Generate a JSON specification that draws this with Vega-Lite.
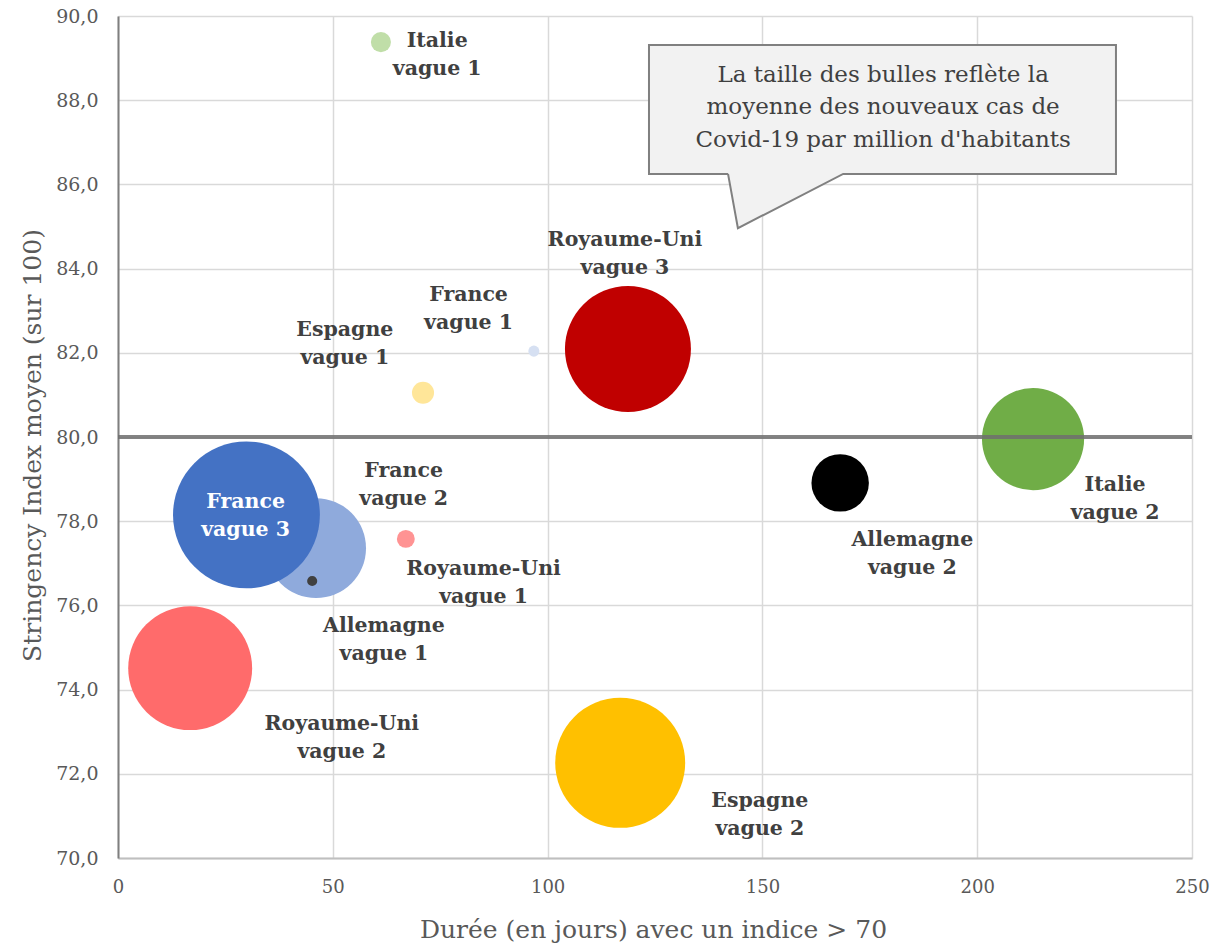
{
  "$schema": "https://vega.github.io/schema/vega-lite/v6.json",
  "width": 1074,
  "height": 842,
  "autosize": {"type": "none"},
  "padding": {"left": 118, "top": 16, "right": 20, "bottom": 88},
  "background": "white",
  "datasets": {
    "bulles": [
      {"serie": "Royaume-Uni vague 2", "duree": 16.8, "indice": 74.51, "cas": 240, "z": 1},
      {"serie": "Espagne vague 2", "duree": 116.9, "indice": 72.26, "cas": 264, "z": 2},
      {"serie": "Royaume-Uni vague 3", "duree": 118.7, "indice": 82.09, "cas": 248, "z": 3},
      {"serie": "Italie vague 2", "duree": 213.0, "indice": 79.95, "cas": 163, "z": 4},
      {"serie": "France vague 2", "duree": 46.1, "indice": 77.36, "cas": 156, "z": 5},
      {"serie": "France vague 3", "duree": 29.9, "indice": 78.15, "cas": 337, "z": 6},
      {"serie": "Allemagne vague 2", "duree": 168.1, "indice": 78.91, "cas": 51.5, "z": 7},
      {"serie": "Espagne vague 1", "duree": 71.0, "indice": 81.05, "cas": 7.6, "z": 8},
      {"serie": "Italie vague 1", "duree": 61.2, "indice": 89.38, "cas": 6.3, "z": 9},
      {"serie": "Royaume-Uni vague 1", "duree": 67.0, "indice": 77.58, "cas": 5.0, "z": 10},
      {"serie": "France vague 1", "duree": 96.8, "indice": 82.04, "cas": 1.9, "z": 11},
      {"serie": "Allemagne vague 1", "duree": 45.2, "indice": 76.58, "cas": 1.6, "z": 12}
    ],
    "etiquettes": [
      {"serie": "Italie vague 1", "texte": "Italie\nvague 1", "lx": 74.3, "ly": 89.07},
      {"serie": "France vague 1", "texte": "France\nvague 1", "lx": 81.6, "ly": 83.05},
      {"serie": "Espagne vague 1", "texte": "Espagne\nvague 1", "lx": 52.8, "ly": 82.2},
      {"serie": "Royaume-Uni vague 3", "texte": "Royaume-Uni\nvague 3", "lx": 118.0, "ly": 84.35},
      {"serie": "France vague 2", "texte": "France\nvague 2", "lx": 66.5, "ly": 78.87},
      {"serie": "France vague 3", "texte": "France\nvague 3", "lx": 29.7, "ly": 78.12},
      {"serie": "Royaume-Uni vague 1", "texte": "Royaume-Uni\nvague 1", "lx": 85.1, "ly": 76.53},
      {"serie": "Allemagne vague 1", "texte": "Allemagne\nvague 1", "lx": 61.9, "ly": 75.18},
      {"serie": "Royaume-Uni vague 2", "texte": "Royaume-Uni\nvague 2", "lx": 52.1, "ly": 72.84},
      {"serie": "Espagne vague 2", "texte": "Espagne\nvague 2", "lx": 149.4, "ly": 71.02},
      {"serie": "Allemagne vague 2", "texte": "Allemagne\nvague 2", "lx": 184.9, "ly": 77.23},
      {"serie": "Italie vague 2", "texte": "Italie\nvague 2", "lx": 232.1, "ly": 78.53}
    ],
    "bulle_boite": [
      {"x1": 123.6, "x2": 232.3, "y1": 86.25, "y2": 89.31}
    ],
    "bulle_pointe": [
      {"py": 86.25, "px1": 142.0, "px2": 168.8},
      {"py": 84.96, "px1": 144.3, "px2": 144.3}
    ],
    "bulle_contour": [
      {"i": 1, "cx": 142.0, "cy": 86.25},
      {"i": 2, "cx": 123.6, "cy": 86.25},
      {"i": 3, "cx": 123.6, "cy": 89.31},
      {"i": 4, "cx": 232.3, "cy": 89.31},
      {"i": 5, "cx": 232.3, "cy": 86.25},
      {"i": 6, "cx": 168.8, "cy": 86.25},
      {"i": 7, "cx": 144.3, "cy": 84.96},
      {"i": 8, "cx": 142.0, "cy": 86.25}
    ],
    "bulle_texte": [
      {"tx": 178.1, "ty": 87.83, "t": "La taille des bulles reflète la\nmoyenne des nouveaux cas de\nCovid-19 par million d'habitants"}
    ],
    "seuil": [{"v": 80}]
  },
  "layer": [
    {
      "data": {"name": "bulles"},
      "mark": {"type": "point", "shape": "circle", "filled": true, "opacity": 1, "strokeWidth": 0},
      "encoding": {
        "x": {"field": "duree", "type": "quantitative", "title": "Durée (en jours) avec un indice > 70",
              "scale": {"domain": [0, 250], "nice": false, "zero": false},
              "axis": {"values": [0, 50, 100, 150, 200, 250]}},
        "y": {"field": "indice", "type": "quantitative", "title": "Stringency Index moyen (sur 100)",
              "scale": {"domain": [70, 90], "nice": false, "zero": false},
              "axis": {"values": [70, 72, 74, 76, 78, 80, 82, 84, 86, 88, 90],
                       "labelExpr": "replace(format(datum.value, '.1f'), '.', ',')"}},
        "size": {"field": "cas", "type": "quantitative", "legend": null,
                 "scale": {"type": "linear", "zero": true, "domain": [0, 400], "range": [0, 25600]}},
        "color": {"field": "serie", "type": "nominal", "legend": null,
                  "scale": {
                    "domain": ["Italie vague 1", "France vague 1", "Espagne vague 1", "Royaume-Uni vague 3", "Allemagne vague 2", "Italie vague 2", "France vague 3", "France vague 2", "Royaume-Uni vague 1", "Allemagne vague 1", "Royaume-Uni vague 2", "Espagne vague 2"],
                    "range": ["#c0dea8", "#d6e0f2", "#ffe699", "#c00000", "#000000", "#70ad47", "#4472c4", "#8faadc", "#ff9393", "#404040", "#ff6b6b", "#ffc000"]
                  }},
        "order": {"field": "z", "type": "quantitative"}
      }
    },
    {
      "data": {"name": "bulle_boite"},
      "mark": {"type": "rect", "fill": "#f2f2f2", "strokeWidth": 0},
      "encoding": {
        "x": {"field": "x1", "type": "quantitative", "title": "Durée (en jours) avec un indice > 70"},
        "x2": {"field": "x2"},
        "y": {"field": "y1", "type": "quantitative", "title": "Stringency Index moyen (sur 100)"},
        "y2": {"field": "y2"}
      }
    },
    {
      "data": {"name": "bulle_pointe"},
      "mark": {"type": "area", "orient": "horizontal", "fill": "#f2f2f2", "strokeWidth": 0, "opacity": 1},
      "encoding": {
        "y": {"field": "py", "type": "quantitative", "title": "Stringency Index moyen (sur 100)"},
        "x": {"field": "px1", "type": "quantitative", "title": "Durée (en jours) avec un indice > 70"},
        "x2": {"field": "px2"}
      }
    },
    {
      "data": {"name": "bulle_contour"},
      "mark": {"type": "line", "stroke": "#808080", "strokeWidth": 2, "strokeJoin": "miter"},
      "encoding": {
        "x": {"field": "cx", "type": "quantitative", "title": "Durée (en jours) avec un indice > 70"},
        "y": {"field": "cy", "type": "quantitative", "title": "Stringency Index moyen (sur 100)"},
        "order": {"field": "i", "type": "quantitative"}
      }
    },
    {
      "data": {"name": "bulle_texte"},
      "mark": {"type": "text", "font": "DejaVu Serif", "fontSize": 23, "color": "#404040", "align": "center", "baseline": "middle", "lineBreak": "\n", "lineHeight": 32.5, "dy": -32.5},
      "encoding": {
        "x": {"field": "tx", "type": "quantitative", "title": "Durée (en jours) avec un indice > 70"},
        "y": {"field": "ty", "type": "quantitative", "title": "Stringency Index moyen (sur 100)"},
        "text": {"field": "t"}
      }
    },
    {
      "data": {"name": "seuil"},
      "mark": {"type": "rule", "stroke": "#6e6e6e", "strokeWidth": 4, "opacity": 0.85},
      "encoding": {
        "y": {"field": "v", "type": "quantitative", "title": "Stringency Index moyen (sur 100)"}
      }
    },
    {
      "data": {"name": "etiquettes"},
      "mark": {"type": "text", "font": "DejaVu Serif", "fontSize": 20.5, "fontWeight": "bold", "align": "center", "baseline": "middle", "lineBreak": "\n", "lineHeight": 28, "dy": -14},
      "encoding": {
        "x": {"field": "lx", "type": "quantitative", "title": "Durée (en jours) avec un indice > 70"},
        "y": {"field": "ly", "type": "quantitative", "title": "Stringency Index moyen (sur 100)"},
        "text": {"field": "texte"},
        "color": {"condition": {"test": "datum.serie === 'France vague 3'", "value": "#ffffff"}, "value": "#404040"}
      }
    }
  ],
  "config": {
    "view": {"stroke": null},
    "axisX": {
      "grid": true, "gridColor": "#d9d9d9", "gridWidth": 1.5,
      "domainColor": "#bfbfbf", "domainWidth": 2,
      "ticks": false,
      "labelFont": "DejaVu Serif", "labelFontSize": 18, "labelColor": "#595959", "labelPadding": 20,
      "labelFlush": false,
      "titleFont": "DejaVu Serif", "titleFontSize": 25, "titleFontWeight": "normal", "titleColor": "#595959",
      "titleX": 535, "titleY": 71, "titleBaseline": "middle", "titleAnchor": "middle"
    },
    "axisY": {
      "grid": true, "gridColor": "#d9d9d9", "gridWidth": 1.5,
      "domainColor": "#7f7f7f", "domainWidth": 2,
      "ticks": false,
      "labelFont": "DejaVu Serif", "labelFontSize": 19, "labelColor": "#595959", "labelPadding": 20,
      "labelFlush": false,
      "titleFont": "DejaVu Serif", "titleFontSize": 25, "titleFontWeight": "normal", "titleColor": "#595959",
      "titleX": -86, "titleY": 429, "titleBaseline": "middle", "titleAnchor": "middle", "titleAngle": -90
    }
  }
}
